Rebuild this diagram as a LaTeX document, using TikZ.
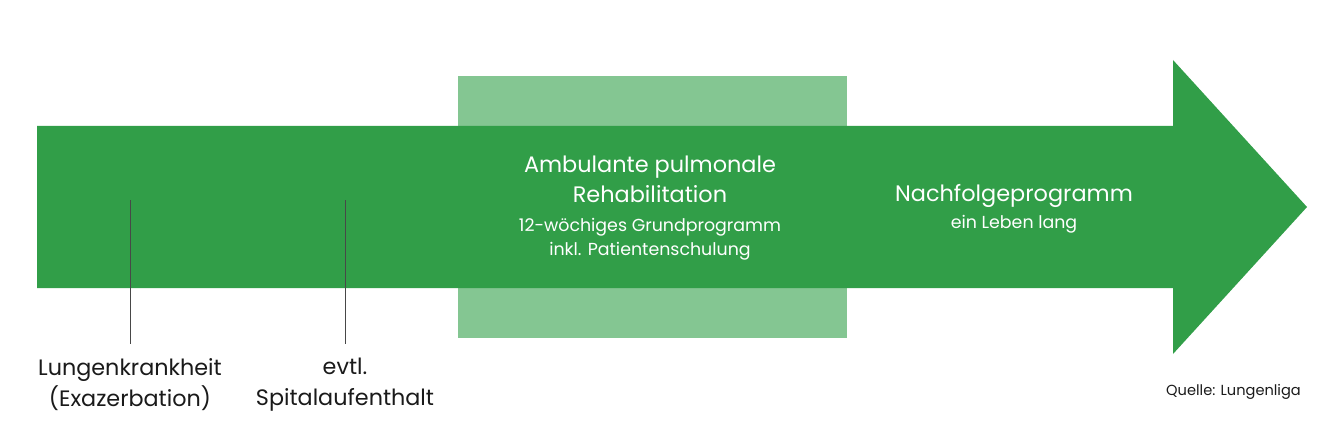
\documentclass[tikz,border=0pt]{standalone}
\usepackage{fontspec}
\setmainfont{Poppins}
\definecolor{dgreen}{HTML}{319E48}
\definecolor{lgreen}{HTML}{84C692}
\definecolor{ink}{HTML}{1A1A1A}
\begin{document}
\begin{tikzpicture}[x=1pt,y=-1pt,
  big/.style={font=\fontsize{22.4}{30}\selectfont, text=white, align=center},
  small/.style={font=\fontsize{17.4}{24}\selectfont, text=white, align=center},
  lbl/.style={font=\fontsize{22.3}{31}\selectfont, text=ink, align=center},
  tick/.style={draw=ink!80, line width=0.9pt}]
\useasboundingbox (0,0) rectangle (1344,425);
\fill[lgreen] (458,76) rectangle (847,338);
\fill[dgreen] (37,126) -- (1173,126) -- (1173,60) -- (1307,207) -- (1173,354) -- (1173,288) -- (37,288) -- cycle;
\node[big] (amb) at (650,179) {Ambulante pulmonale\\Rehabilitation};
\node[small] (grund) at (650,239.5) {12-wöchiges Grundprogramm\\inkl. Patientenschulung};
\node[big] (nach) at (1014,196) {Nachfolgeprogramm};
\node[small] (leben) at (1014,224) {ein Leben lang};
\coordinate (t1) at (130,200);
\coordinate (t2) at (345,200);
\node[lbl] (lung) at (130,384.5) {Lungenkrankheit\\(Exazerbation)};
\node[lbl] (spit) at (345,384.5) {evtl.\\Spitalaufenthalt};
\draw[tick] (t1) -- (130,344);
\draw[tick] (t2) -- (345,344);
\node[font=\fontsize{14.6}{18}\selectfont, text=ink] (quelle) at (1233.5,392) {Quelle: Lungenliga};
\end{tikzpicture}
\end{document}
